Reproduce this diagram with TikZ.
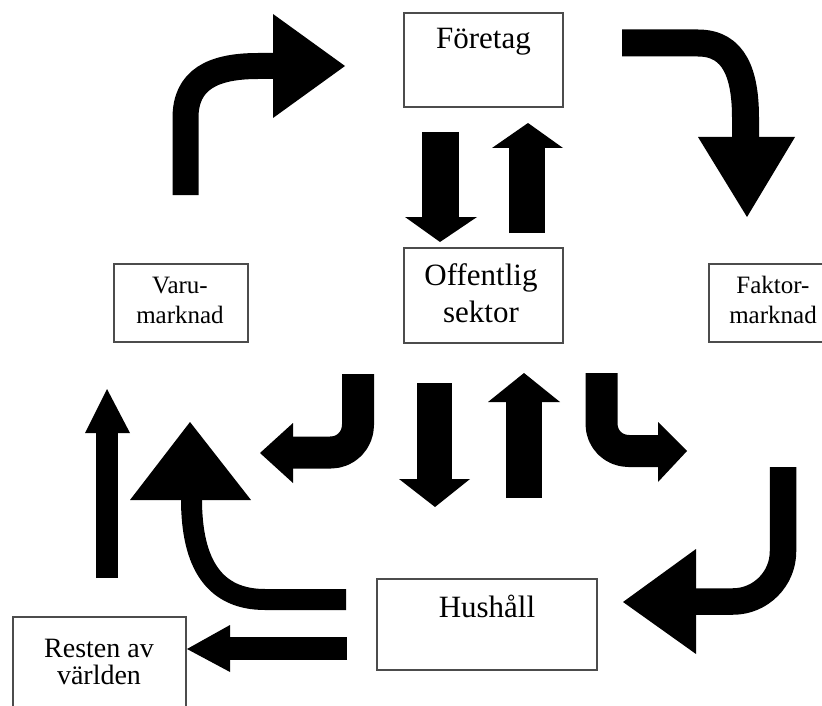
\documentclass[tikz,border=0pt]{standalone}
\usepackage{fontspec}
\setmainfont{Liberation Serif}
\tikzset{
  box/.style={draw=black!70, line width=1.3pt, fill=white, inner sep=0pt},
  big/.style={anchor=base, inner sep=0pt, font=\fontsize{31}{37}\selectfont},
  mid/.style={anchor=base, inner sep=0pt, font=\fontsize{28}{28}\selectfont},
  small/.style={anchor=base, inner sep=0pt, font=\fontsize{25}{30}\selectfont},
  shaft/.style={draw=black, line width=#1, line cap=butt, line join=round},
  head/.style={fill=black, draw=none}
}
\begin{document}
\begin{tikzpicture}[x=1pt, y=-1pt]
\useasboundingbox (0,0) rectangle (822,706);
% boxes
\node[box, minimum width=159pt, minimum height=94pt] (firm) at (483.5,60) {};
\node[box, minimum width=134pt, minimum height=78pt] (varu) at (181,303) {};
\node[box, minimum width=159pt, minimum height=95pt] (pub) at (483.5,295.5) {};
\node[box, minimum width=128pt, minimum height=78pt] (fakt) at (773,303) {};
\node[box, minimum width=220pt, minimum height=91pt] (hush) at (487,624.5) {};
\node[box, minimum width=173pt, minimum height=103pt] (rest) at (99.5,668.5) {};
% texts
\node[big] (firmt) at (483.5,49) {Företag};
\node[big] (pubt1) at (481,285) {Offentlig};
\node[big] (pubt2) at (481,322) {sektor};
\node[big] (husht) at (487,617) {Hushåll};
\node[small] (varut1) at (180,293) {Varu-};
\node[small] (varut2) at (180,323) {marknad};
\node[small] (faktt1) at (773,293) {Faktor-};
\node[small] (faktt2) at (773,323) {marknad};
\node[mid] (restt1) at (99,657) {Resten av};
\node[mid] (restt2) at (99,684) {världen};
% A1 top-left curved arrow
\draw[shaft=26pt] (185.5,195) -- (185.5,118) .. controls (185.5,80) and (212,66) .. (258,66) -- (274,66);
\fill[head] (273,14) -- (345,66) -- (273,118) -- cycle;
% A2 top-right curved arrow
\draw[shaft=27pt] (622,43) -- (698,43) .. controls (735,43) and (745.5,75) .. (745.5,118) -- (745.5,138);
\fill[head] (698,137) -- (795,137) -- (747,217) -- cycle;
% A3 down / up between firm and public
\draw[shaft=37pt] (440.5,132) -- (440.5,218);
\fill[head] (405,217) -- (477,217) -- (440,242) -- cycle;
\draw[shaft=36pt] (527,233) -- (527,147);
\fill[head] (492,148) -- (563,148) -- (528,123) -- cycle;
% A4 left curve
\draw[shaft=32pt] (358,374) -- (358,425) .. controls (358,440) and (346,452.5) .. (331,452.5) -- (292,452.5);
\fill[head] (293,423) -- (293,483) -- (260,453) -- cycle;
% A5 down, A6 up
\draw[shaft=35pt] (434.5,383) -- (434.5,480);
\fill[head] (399,479) -- (470,479) -- (435,507) -- cycle;
\draw[shaft=36pt] (524,498) -- (524,401);
\fill[head] (488,402) -- (560,402) -- (524,373) -- cycle;
% A7 right curve
\draw[shaft=32pt] (601.5,373) -- (601.5,424) .. controls (601.5,439) and (613.5,451) .. (628.5,451) -- (659,451);
\fill[head] (658,422) -- (658,482) -- (687,451) -- cycle;
% A8 big left curve to hushall
\draw[shaft=26.5pt] (783,467) -- (783,551.5) .. controls (783,579) and (760.5,601.5) .. (733,601.5) -- (695,601.5);
\fill[head] (696,549) -- (696,654) -- (623,602) -- cycle;
% A9 big up curve
\draw[shaft=21pt] (346,599.5) -- (265,599.5) .. controls (215,599.5) and (191.5,565) .. (191.5,499);
\fill[head] (130,500) -- (251,500) -- (190,422) -- cycle;
% A10 thin up
\draw[shaft=22pt] (107,578) -- (107,432);
\fill[head] (85,433) -- (130,433) -- (107,389) -- cycle;
% A11 left to rest
\draw[shaft=23pt] (347,648.5) -- (229,648.5);
\fill[head] (230,625) -- (230,672) -- (187,649) -- cycle;
\end{tikzpicture}
\end{document}
